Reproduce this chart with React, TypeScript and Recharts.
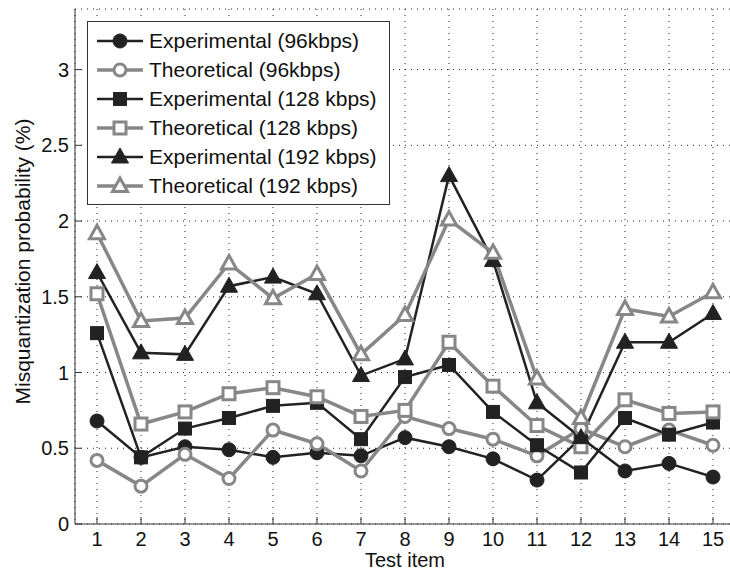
import { LineChart, Line, XAxis, YAxis, CartesianGrid, Legend } from 'recharts'

// test items and read-off values (%)
const items = [1, 2, 3, 4, 5, 6, 7, 8, 9, 10, 11, 12, 13, 14, 15]
const exp96 = [0.68, 0.44, 0.51, 0.49, 0.44, 0.47, 0.45, 0.57, 0.51, 0.43, 0.29, 0.57, 0.35, 0.40, 0.31]
const theo96 = [0.42, 0.25, 0.46, 0.30, 0.62, 0.53, 0.35, 0.71, 0.63, 0.56, 0.45, 0.63, 0.51, 0.62, 0.52]
const exp128 = [1.26, 0.44, 0.63, 0.70, 0.78, 0.80, 0.56, 0.97, 1.05, 0.74, 0.52, 0.34, 0.70, 0.59, 0.67]
const theo128 = [1.52, 0.66, 0.74, 0.86, 0.90, 0.84, 0.71, 0.75, 1.20, 0.91, 0.65, 0.51, 0.82, 0.73, 0.74]
const exp192 = [1.66, 1.13, 1.12, 1.57, 1.63, 1.52, 0.98, 1.09, 2.30, 1.74, 0.80, 0.57, 1.20, 1.20, 1.39]
const theo192 = [1.92, 1.34, 1.36, 1.72, 1.49, 1.65, 1.12, 1.38, 2.01, 1.79, 0.96, 0.70, 1.42, 1.37, 1.53]
const yTicks = [0, 0.5, 1, 1.5, 2, 2.5, 3]

const DARK = '#222222'
const GREY = '#878787'
const FONT = '"Liberation Sans", Arial, sans-serif'

const series = [
  { key: 'exp96', name: 'Experimental (96kbps)', values: exp96, shape: 'circle', filled: true },
  { key: 'theo96', name: 'Theoretical (96kbps)', values: theo96, shape: 'circle', filled: false },
  { key: 'exp128', name: 'Experimental (128 kbps)', values: exp128, shape: 'square', filled: true },
  { key: 'theo128', name: 'Theoretical (128 kbps)', values: theo128, shape: 'square', filled: false },
  { key: 'exp192', name: 'Experimental (192 kbps)', values: exp192, shape: 'triangle', filled: true },
  { key: 'theo192', name: 'Theoretical (192 kbps)', values: theo192, shape: 'triangle', filled: false },
]

const data = items.map((item, i) => {
  const row: any = { item }
  series.forEach(s => { row[s.key] = s.values[i] })
  return row
})

function Marker({ cx, cy, shape, filled }: any) {
  if (cx == null || cy == null) return null
  const color = filled ? DARK : GREY
  const fill = filled ? DARK : '#ffffff'
  const sw = filled ? 1 : 3
  if (shape === 'circle') {
    return <circle cx={cx} cy={cy} r={filled ? 7 : 6} fill={fill} stroke={color} strokeWidth={sw} />
  }
  if (shape === 'square') {
    const h = filled ? 6.5 : 6
    return <rect x={cx - h} y={cy - h} width={h * 2} height={h * 2} fill={fill} stroke={color} strokeWidth={sw} />
  }
  const pts = filled
    ? `${cx},${cy - 9} ${cx - 8.5},${cy + 6} ${cx + 8.5},${cy + 6}`
    : `${cx},${cy - 8} ${cx - 7.5},${cy + 5.5} ${cx + 7.5},${cy + 5.5}`
  return <polygon points={pts} fill={fill} stroke={color} strokeWidth={sw} strokeLinejoin="miter" />
}

function LegendBox() {
  return (
    <div style={{ border: '1px solid #333', background: '#fff', padding: '4px 0 4px 9px', fontFamily: FONT }}>
      {series.map(s => (
        <div key={s.key} style={{ display: 'flex', alignItems: 'center', height: 29 }}>
          <svg width={46} height={22} style={{ overflow: 'visible' }}>
            <line x1={0} y1={11} x2={46} y2={11} stroke={s.filled ? DARK : GREY} strokeWidth={s.filled ? 2.5 : 3.5} />
            <Marker cx={23} cy={11} shape={s.shape} filled={s.filled} />
          </svg>
          <span style={{ marginLeft: 6, fontSize: 21, color: '#111', whiteSpace: 'nowrap' }}>{s.name}</span>
        </div>
      ))}
    </div>
  )
}

function YLabel({ viewBox }: any) {
  const x = 22
  const y = viewBox.y + viewBox.height / 2 - 5
  return (
    <text x={x} y={y} transform={`rotate(-90 ${x} ${y})`} textAnchor="middle" dominantBaseline="central"
      fontSize={21} fill="#111" fontFamily={FONT}>
      Misquantization probability (%)
    </text>
  )
}

export default function App() {
  const tickStyle = { fontSize: 20, fill: '#111', fontFamily: FONT }
  return (
    <div style={{ position: 'absolute', left: 0, top: 0, width: 730, height: 573, overflow: 'hidden', background: '#fff' }}>
      <LineChart width={740} height={573} data={data} margin={{ top: 9, right: 5, bottom: 0, left: 0 }}>
        <CartesianGrid stroke="#222" strokeDasharray="1 5" />
        <XAxis dataKey="item" type="number" domain={[0.5, 15.5]} ticks={items} height={49}
          stroke="#333" tickSize={-7} tickMargin={15} tick={tickStyle}
          label={{ value: 'Test item', position: 'insideBottom', offset: 6, fontSize: 20, fill: '#111', fontFamily: FONT }} />
        <XAxis xAxisId="top" dataKey="item" type="number" orientation="top" domain={[0.5, 15.5]} ticks={items}
          height={0} stroke="#333" tickSize={-7} tickFormatter={() => ''} />
        <YAxis type="number" domain={[0, 3.4]} ticks={yTicks} width={75} stroke="#333" tickSize={-7}
          tickMargin={13} tick={tickStyle} label={<YLabel />} />
        <Legend layout="vertical" align="center" verticalAlign="middle"
          wrapperStyle={{ left: 87, top: 21, width: 303 }} content={() => <LegendBox />} />
        {series.map(s => (
          <Line key={s.key} dataKey={s.key} name={s.name} stroke={s.filled ? DARK : GREY}
            strokeWidth={s.filled ? 2.5 : 3.5} isAnimationActive={false}
            dot={(p: any) => <Marker key={`${s.key}-${p.index}`} cx={p.cx} cy={p.cy} shape={s.shape} filled={s.filled} />} />
        ))}
      </LineChart>
    </div>
  )
}
